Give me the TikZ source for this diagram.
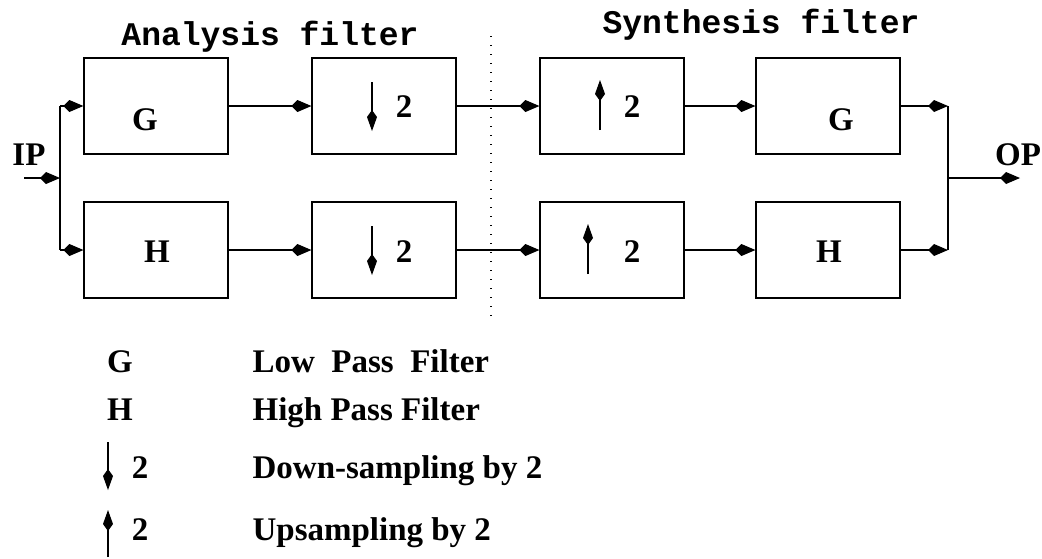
\documentclass[tikz,border=0pt]{standalone}
\usepackage{fontspec}
\setmainfont{Liberation Serif}
\newfontfamily\monof{Liberation Mono}
\usetikzlibrary{arrows.meta}
\begin{document}
\begin{tikzpicture}[x=1pt,y=-1pt,line width=1.2pt,
  blk/.style={draw,rectangle,inner sep=0pt,minimum width=144pt,minimum height=96pt},
  arr/.style={-{Kite[length=20pt,width=12pt,inset=6pt]}},
  sarr/.style={-{Kite[length=21pt,width=10pt,inset=7pt]}},
  lbl/.style={font=\fontsize{33}{36}\selectfont\bfseries,inner sep=0pt,anchor=base},
  ttl/.style={font=\fontsize{33}{36}\selectfont\monof\bfseries,inner sep=0pt,anchor=base},
  leg/.style={font=\fontsize{33}{36}\selectfont\bfseries,inner sep=0pt,anchor=base west}]
\useasboundingbox (0,0) rectangle (1042,558);
% boxes
\node[blk] (gA) at (156,106) {};
\node[blk] (hA) at (156,250) {};
\node[blk] (dA1) at (384,106) {};
\node[blk] (dA2) at (384,250) {};
\node[blk] (uS1) at (612,106) {};
\node[blk] (uS2) at (612,250) {};
\node[blk] (gS) at (828,106) {};
\node[blk] (hS) at (828,250) {};
% box contents
\node[lbl] (tG1) at (145,130) {G};
\node[lbl] (tH1) at (157,262) {H};
\node[lbl] (t21) at (404,117) {2};
\node[lbl] (t22) at (404,262) {2};
\node[lbl] (t23) at (632,117) {2};
\node[lbl] (t24) at (632,262) {2};
\node[lbl] (tG2) at (841,130) {G};
\node[lbl] (tH2) at (829,262) {H};
\draw[sarr] (372,82) -- (372,131);
\draw[sarr] (372,226) -- (372,275);
\draw[sarr] (600,130) -- (600,80);
\draw[sarr] (588,274) -- (588,224);
% titles
\node[ttl] (ta) at (270,45) {Analysis filter};
\node[ttl] (ts) at (761,33) {Synthesis filter};
\node[lbl] (ip) at (29,165) {IP};
\node[lbl] (op) at (1018,165) {OP};
% divider
\coordinate (d1) at (491,36);
\coordinate (d2) at (491,320);
\draw[line width=1.2pt,dash pattern=on 1.3pt off 7.7pt] (d1) -- (d2);
% input
\coordinate (in) at (24,178);
\coordinate (br) at (60,178);
\draw[arr] (in) -- (br);
\draw (br |- gA.west) -- (br |- hA.west);
\draw[arr] (br |- gA.west) -- (gA.west);
\draw[arr] (br |- hA.west) -- (hA.west);
% chain
\draw[arr] (gA.east) -- (dA1.west);
\draw[arr] (hA.east) -- (dA2.west);
\draw[arr] (dA1.east) -- (uS1.west);
\draw[arr] (dA2.east) -- (uS2.west);
\draw[arr] (uS1.east) -- (gS.west);
\draw[arr] (uS2.east) -- (hS.west);
% output
\coordinate (jn) at (948,178);
\coordinate (out) at (1020,178);
\draw[arr] (gS.east) -- (jn |- gS.east);
\draw[arr] (hS.east) -- (jn |- hS.east);
\draw (jn |- gS.east) -- (jn |- hS.east);
\draw[arr] (jn) -- (out);
% legend
\node[lbl] (lG) at (120,372) {G};
\node[lbl] (lH) at (120,420) {H};
\node[lbl] (l2a) at (140,478) {2};
\node[lbl] (l2b) at (140,540) {2};
\draw[sarr] (108,442) -- (108,490);
\draw[sarr] (108,557) -- (108,510);
\node[leg] (dG) at (252,372) {Low\ \ Pass\ \ Filter};
\node[leg] (dH) at (252,420) {High Pass Filter};
\node[leg] (dD) at (252,478) {Down-sampling by 2};
\node[leg] (dU) at (252,540) {Upsampling by 2};
\end{tikzpicture}
\end{document}
